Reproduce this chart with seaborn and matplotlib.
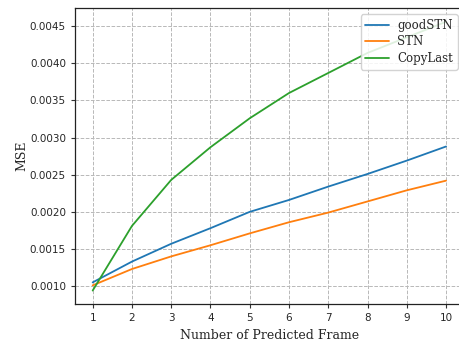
import numpy as np
import pandas as pd
import seaborn as sns
import matplotlib
matplotlib.use("Agg")
import matplotlib.pyplot as plt

frames = [1, 2, 3, 4, 5, 6, 7, 8, 9, 10]
good_stn = [0.00105, 0.00133, 0.00157, 0.00178, 0.00200, 0.00216, 0.00234, 0.00251, 0.00269, 0.00288]
stn = [0.00101, 0.00123, 0.00140, 0.00155, 0.00171, 0.00186, 0.00199, 0.00214, 0.00229, 0.00242]
copy_last = [0.00094, 0.00181, 0.00243, 0.00287, 0.00326, 0.00360, 0.00387, 0.00414, 0.00435, 0.00456]
series_names = ["goodSTN", "STN", "CopyLast"]

df = pd.DataFrame({
    "frame": frames * 3,
    "mse": good_stn + stn + copy_last,
    "method": [n for n in series_names for _ in frames],
})

sns.set_style("ticks")
plt.rcParams["font.family"] = ["DejaVu Sans"]

fig = plt.figure(figsize=(4.6, 3.45), dpi=100)
ax = fig.add_axes([75 / 460, 41 / 345, (463.7 - 75) / 460, (304 - 8.3) / 345])

sns.lineplot(data=df, x="frame", y="mse", hue="method", hue_order=series_names,
             palette=["#1f77b4", "#ff7f0e", "#2ca02c"], linewidth=1.3, ax=ax)

ax.set_xticks(frames)
yt = np.arange(0.0010, 0.00451, 0.0005)
ax.set_yticks(yt)
ax.set_yticklabels([f"{v:.4f}" for v in yt])
ax.tick_params(labelsize=7.5, length=3, width=0.8, color="#333333")
ax.grid(True, linestyle="--", color="#b8b8b8", linewidth=0.7)
for s in ax.spines.values():
    s.set_color("#222222")
    s.set_linewidth(0.9)

ax.set_xlabel("Number of Predicted Frame", family="DejaVu Serif", fontsize=9)
ax.set_ylabel("MSE", family="DejaVu Serif", fontsize=9, labelpad=1)

ax.legend(loc="upper right", prop={"family": "DejaVu Serif", "size": 8.5},
          labelspacing=0.3, handletextpad=0.7, fancybox=True,
          framealpha=0.85, edgecolor="#cccccc")

fig.savefig("out.png", dpi=100)
